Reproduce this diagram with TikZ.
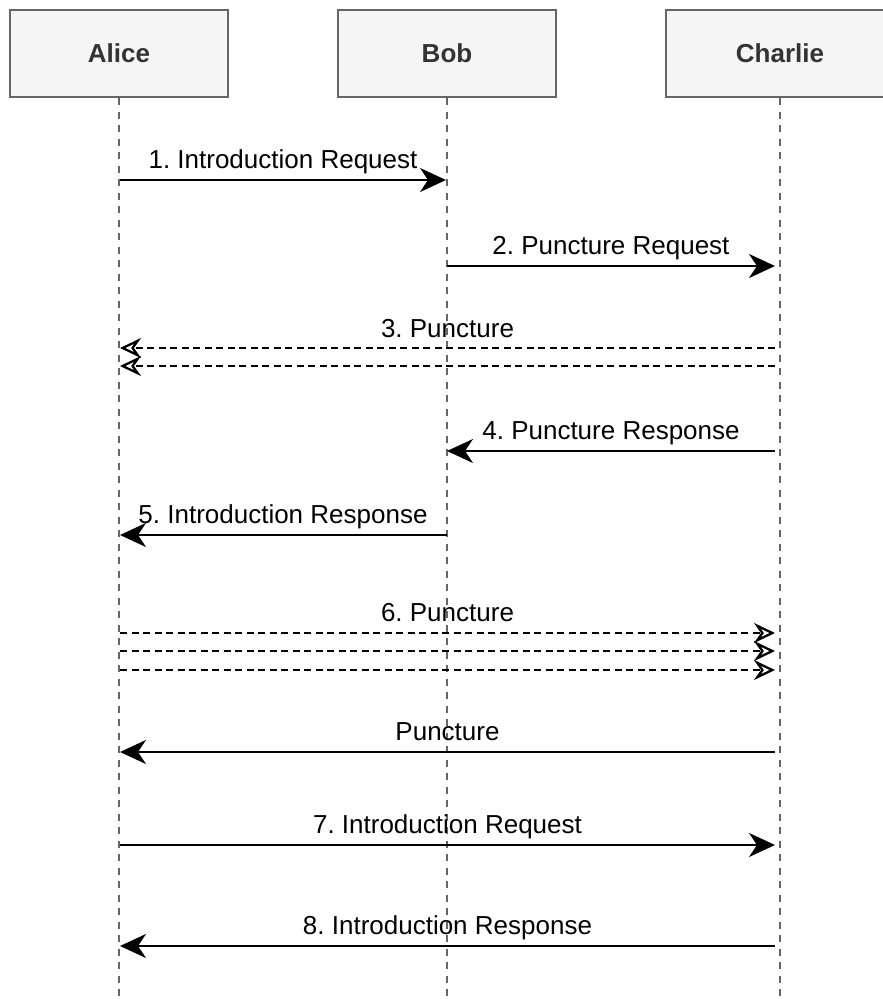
\documentclass[tikz,border=0pt]{standalone}
\usepackage{fontspec}
\setmainfont{Liberation Sans}
\usetikzlibrary{arrows.meta}
\definecolor{boxfill}{HTML}{F5F5F5}
\definecolor{boxline}{HTML}{666666}
\definecolor{boxtext}{HTML}{333333}
\begin{document}
\frenchspacing
\begin{tikzpicture}[x=1pt,y=-1pt,
  actor/.style={draw=boxline, line width=2.2pt, fill=boxfill, minimum width=218pt, minimum height=87pt, inner sep=0pt, text=boxtext, font=\fontsize{26}{30}\selectfont\bfseries},
  life/.style={draw=boxline, line width=2.3pt, dash pattern=on 7pt off 6.5pt},
  msg/.style={draw=black, line width=2.5pt, -{Stealth[length=26pt,width=24pt,inset=8pt]}},
  async/.style={draw=black, line width=2.3pt, dash pattern=on 7pt off 4.5pt, -{Stealth[open,length=21pt,width=20pt,inset=7pt]}},
  lbl/.style={font=\fontsize{26}{30}\selectfont, anchor=base, inner sep=0pt}]
\useasboundingbox (0,0) rectangle (883,999);
% actors
\node[actor] (alice) at (119,53.5) {Alice};
\node[actor] (bob) at (447,53.5) {Bob};
\node[actor, minimum width=228pt] (charlie) at (780,53.5) {Charlie};
% lifelines
\coordinate (aliceEnd) at (119,999);
\coordinate (bobEnd) at (447,999);
\coordinate (charlieEnd) at (780,999);
\draw[life] (alice.south) -- (aliceEnd);
\draw[life] (bob.south) -- (bobEnd);
\draw[life] (charlie.south) -- (charlieEnd);
% endpoints
\coordinate (m1s) at (120,180); \coordinate (m1e) at (446,180);
\coordinate (m2s) at (447,266); \coordinate (m2e) at (775,266);
\coordinate (m3as) at (775,348); \coordinate (m3ae) at (120,348);
\coordinate (m3bs) at (775,366); \coordinate (m3be) at (120,366);
\coordinate (m4s) at (775,451); \coordinate (m4e) at (447,451);
\coordinate (m5s) at (447,535); \coordinate (m5e) at (120,535);
\coordinate (m6as) at (120,633); \coordinate (m6ae) at (775,633);
\coordinate (m6bs) at (120,651); \coordinate (m6be) at (775,651);
\coordinate (m6cs) at (120,670); \coordinate (m6ce) at (775,670);
\coordinate (mPs) at (775,752); \coordinate (mPe) at (120,752);
\coordinate (m7s) at (120,845); \coordinate (m7e) at (775,845);
\coordinate (m8s) at (775,946); \coordinate (m8e) at (120,946);
% messages
\draw[msg] (m1s) -- (m1e);
\draw[msg] (m2s) -- (m2e);
\draw[async] (m3as) -- (m3ae);
\draw[async] (m3bs) -- (m3be);
\draw[msg] (m4s) -- (m4e);
\draw[msg] (m5s) -- (m5e);
\draw[async] (m6as) -- (m6ae);
\draw[async] (m6bs) -- (m6be);
\draw[async] (m6cs) -- (m6ce);
\draw[msg] (mPs) -- (mPe);
\draw[msg] (m7s) -- (m7e);
\draw[msg] (m8s) -- (m8e);
% labels
\node[lbl] (l1) at (283,168) {1. Introduction Request};
\node[lbl] (l2) at (611,254) {2. Puncture Request};
\node[lbl] (l3) at (447.5,337) {3. Puncture};
\node[lbl] (l4) at (611,439) {4. Puncture Response};
\node[lbl] (l5) at (283,523) {5. Introduction Response};
\node[lbl] (l6) at (447.5,621) {6. Puncture};
\node[lbl] (lP) at (447.5,740) {Puncture};
\node[lbl] (l7) at (447.5,833) {7. Introduction Request};
\node[lbl] (l8) at (447.5,934) {8. Introduction Response};
\end{tikzpicture}
\end{document}
